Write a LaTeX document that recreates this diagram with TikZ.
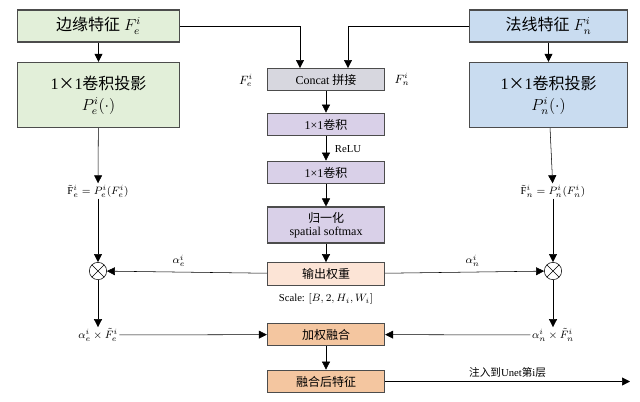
\documentclass[tikz,border=0pt]{standalone}
\usepackage{fontspec}
\setmainfont{Liberation Serif}
\newfontfamily\cjk{Noto Sans CJK SC}
\usetikzlibrary{arrows.meta}
\definecolor{greenbox}{HTML}{E2EFD9}
\definecolor{bluebox}{HTML}{C9DCF0}
\definecolor{graybox}{HTML}{D7D7DF}
\definecolor{purplebox}{HTML}{D9D0E8}
\definecolor{peachbox}{HTML}{FCE4D6}
\definecolor{orangebox}{HTML}{F4C6A0}
\begin{document}
\begin{tikzpicture}[x=0.75pt,y=-0.75pt,
    >={Triangle[length=6pt,width=6pt]},
    bigbox/.style={draw=black!70, thick, minimum width=122pt, inner sep=2pt, align=center, font=\fontsize{12}{14}\selectfont},
    midbox/.style={draw=black!70, thick, minimum width=88pt, minimum height=17pt, inner sep=1pt, align=center, font=\fontsize{9}{10}\selectfont},
    mult/.style={circle, draw, minimum size=13pt, inner sep=0pt, path picture={
        \draw (path picture bounding box.north west) -- (path picture bounding box.south east)
              (path picture bounding box.north east) -- (path picture bounding box.south west);}},
    lbl/.style={font=\fontsize{8}{9}\selectfont, inner sep=1pt}
]
\useasboundingbox (0,0) rectangle (640,401);

% Eingaenge
\node[bigbox, fill=greenbox, minimum height=24pt] (edge) at (98.5,26) {{\cjk 边缘特征} $F_e^i$};
\node[bigbox, fill=greenbox, minimum height=49pt] (edgeproj) at (98.5,95) {1{\cjk ×}1{\cjk 卷积投影}\\[2pt] $P_e^i(\cdot)$};
\node[bigbox, fill=bluebox, minimum height=24pt, minimum width=118pt] (normal) at (548.5,26) {{\cjk 法线特征} $F_n^i$};
\node[bigbox, fill=bluebox, minimum height=49pt, minimum width=118pt] (normalproj) at (548.5,95) {1{\cjk ×}1{\cjk 卷积投影}\\[2pt] $P_n^i(\cdot)$};

% Mitte
\node[midbox, fill=graybox] (concat) at (326,79.5) {Concat {\cjk 拼接}};
\node[midbox, fill=purplebox] (conv1) at (326,124.5) {1×1{\cjk 卷积}};
\node[midbox, fill=purplebox] (conv2) at (326,172.5) {1×1{\cjk 卷积}};
\node[midbox, fill=purplebox, minimum height=27pt] (norm) at (326,225) {{\cjk 归一化}\\spatial softmax};
\node[midbox, fill=peachbox] (weight) at (326,274) {{\cjk 输出权重}};
\node[midbox, fill=orangebox] (fuse) at (326,334.5) {{\cjk 加权融合}};
\node[midbox, fill=orangebox] (out) at (326,381.5) {{\cjk 融合后特征}};

\node[lbl, font=\small] at (246,80) {$F_e^i$};
\node[lbl, font=\small] at (402,79) {$F_n^i$};
\node[lbl] at (348,149) {ReLU};
\node[lbl] (scale) at (326,299) {Scale: $[B,2,H_i,W_i]$};

% Multiplikation
\node[mult] (mulE) at (98,271) {};
\node[mult] (mulN) at (553,271) {};
\node[lbl] (tildeE) at (98,191) {$\tilde{\mathrm{F}}_e^i = P_e^i(F_e^i)$};
\node[lbl] (tildeN) at (553,191) {$\tilde{\mathrm{F}}_n^i = P_n^i(F_n^i)$};
\node[lbl] (prodE) at (98,335) {$\alpha_e^i \times \tilde{F}_e^i$};
\node[lbl] (prodN) at (553,335) {$\alpha_n^i \times \tilde{F}_n^i$};
\coordinate (end) at (630,381.5);

% Verbindungen
\draw[->] (edge) -- (edgeproj);
\draw[->] (normal) -- (normalproj);
\draw[->] (edge.east) -| (300,68);
\draw[->] (normal.west) -| (348,68);
\draw[->] (concat) -- (conv1);
\draw[->] (conv1) -- (conv2);
\draw[->] (conv2) -- (norm);
\draw[->] (norm) -- (weight);
\draw[->] (edgeproj) -- (tildeE);
\draw[->] (normalproj) -- (tildeN);
\draw[->] (tildeE) -- (mulE);
\draw[->] (tildeN) -- (mulN);
\draw[->] (weight) -- (mulE) node[lbl, pos=0.55, above=3pt] {$\alpha_e^i$};
\draw[->] (weight) -- (mulN) node[lbl, pos=0.55, above=3pt] {$\alpha_n^i$};
\draw[->] (mulE) -- (prodE);
\draw[->] (mulN) -- (prodN);
\draw[->] (prodE) -- (fuse);
\draw[->] (prodN) -- (fuse);
\draw[->] (fuse) -- (out);
\draw[->] (out) -- (end) node[lbl, midway, above=2pt] {{\cjk 注入到}Unet{\cjk 第}i{\cjk 层}};
\end{tikzpicture}
\end{document}
